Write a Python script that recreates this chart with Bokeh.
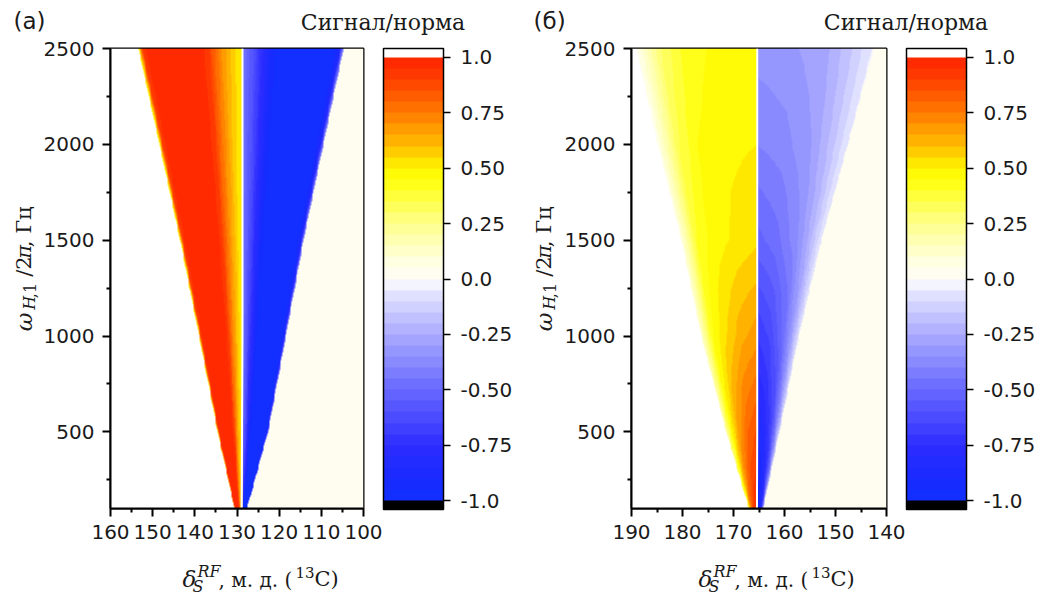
import numpy as np
from bokeh.plotting import figure
from bokeh.layouts import row, column
from bokeh.models import LinearColorMapper, ColorBar, FixedTicker, Range1d
from bokeh.core.properties import value
from bokeh.embed import file_html
from bokeh.resources import INLINE

# ---------------- data ----------------
omega_rows = [100, 500, 1000, 1500, 2000, 2500]          # ω_H,1/2π, Гц
y_ticks = [500, 1000, 1500, 2000, 2500]
y_minor = [250, 750, 1250, 1750, 2250]

# panel (a): RF offset, ppm (13C)
a_x_ticks = [160, 150, 140, 130, 120, 110, 100]
a_x_minor = [155, 145, 135, 125, 115, 105]
a_left_edge = [130.6, 134.6, 139.0, 143.5, 148.4, 153.4]
a_center = [128.9, 128.8, 128.7, 128.7, 128.7, 128.7]
a_right_edge = [127.6, 122.6, 118.4, 114.2, 109.5, 104.7]
a_frac = [0.0, 0.05, 0.12, 0.2, 0.28, 0.34, 0.5, 0.9, 0.96, 1.0]   # 0 = resonance, 1 = wedge edge
a_left_vals = [[0.50, 0.53, 0.60, 0.70, 0.82, 0.94, 0.99, 0.99, 0.90, 0.45]] * 6
a_right_vals = [[-0.45, -0.52, -0.62, -0.76, -0.90, -0.96, -0.99, -0.98, -0.85, -0.35]] * 6

# panel (б)
b_x_ticks = [190, 180, 170, 160, 150, 140]
b_x_minor = [185, 175, 165, 155, 145]
b_left_edge = [167.0, 171.4, 176.3, 180.2, 184.8, 189.0]
b_center = [165.4, 165.35, 165.35, 165.35, 165.35, 165.35]
b_right_edge = [164.2, 161.0, 157.2, 152.8, 147.6, 142.5]
b_frac = [0.0, 0.3, 0.6, 0.8, 1.0]
b_left_vals = [
    [0.96, 0.92, 0.82, 0.65, 0.35],
    [0.86, 0.80, 0.66, 0.50, 0.20],
    [0.68, 0.63, 0.53, 0.44, 0.12],
    [0.54, 0.51, 0.47, 0.40, 0.08],
    [0.50, 0.49, 0.45, 0.34, 0.06],
    [0.49, 0.47, 0.42, 0.30, 0.04],
]
b_right_vals = [
    [-0.96, -0.92, -0.82, -0.60, -0.20],
    [-0.86, -0.80, -0.66, -0.42, -0.10],
    [-0.70, -0.64, -0.50, -0.32, -0.06],
    [-0.52, -0.47, -0.37, -0.24, -0.05],
    [-0.40, -0.37, -0.30, -0.19, -0.05],
    [-0.33, -0.31, -0.26, -0.16, -0.04],
]
outside_value = 0.02        # level on the low-ppm side of the wedge

cb_ticks = [-1.0, -0.75, -0.5, -0.25, 0.0, 0.25, 0.5, 0.75, 1.0]
cb_tick_labels = ["-1.0", "-0.75", "-0.50", "-0.25", "0.0", "0.25", "0.50", "0.75", "1.0"]

# ---------------- palette (style) ----------------
anchor_v = [-1.0, -0.9, -0.75, -0.5, -0.25, -0.05, 0.0, 0.1, 0.25, 0.45, 0.5, 0.6, 0.75, 0.9, 1.0]
anchor_rgb = [(16, 48, 255), (24, 42, 255), (45, 45, 255), (105, 105, 255), (170, 170, 255),
              (232, 232, 255), (255, 255, 255), (255, 255, 215), (255, 255, 140), (255, 255, 10),
              (255, 246, 0), (255, 190, 0), (255, 122, 0), (255, 62, 0), (255, 35, 0)]
low, high = -1.04, 1.04
palette = []
for i in range(208):
    v = low + (i + 0.5) * 0.01
    if v < -1.0:
        palette.append("#000000")
    elif v > 1.0:
        palette.append("#ffffff")
    else:
        lvl = (np.floor(v / 0.05) + 0.5) * 0.05
        rgb = [int(round(np.interp(lvl, anchor_v, [c[k] for c in anchor_rgb]))) for k in range(3)]
        if 0 <= lvl < 0.05:
            rgb = [255, 252, 240]
        palette.append("#%02x%02x%02x" % tuple(rgb))
mapper = LinearColorMapper(palette=palette, low=low, high=high, nan_color="#ffffff")


def build_field(xmin, xmax, left_e, center, right_e, fr, lvals, rvals, nx=300, ny=480):
    xs = xmin + (np.arange(nx) + 0.5) * (xmax - xmin) / nx
    ys = omega_rows[0] + (np.arange(ny) + 0.5) * (omega_rows[-1] - omega_rows[0]) / ny
    L = np.array(lvals)
    R = np.array(rvals)
    img = np.full((ny, nx), np.nan)
    for j, y in enumerate(ys):
        le = np.interp(y, omega_rows, left_e)
        c = np.interp(y, omega_rows, center)
        re = np.interp(y, omega_rows, right_e)
        lp = [np.interp(y, omega_rows, L[:, k]) for k in range(len(fr))]
        rp = [np.interp(y, omega_rows, R[:, k]) for k in range(len(fr))]
        m = (xs >= c) & (xs <= le)
        img[j, m] = np.interp((xs[m] - c) / (le - c), fr, lp)
        m = (xs < c) & (xs >= re)
        img[j, m] = np.interp((c - xs[m]) / (c - re), fr, rp)
        img[j, xs < re] = outside_value
    return np.clip(img, -0.999, 0.999)


SANS = "DejaVu Sans"
SERIF = "DejaVu Serif"
INK = "#1a1a1a"
MID = 0.345   # text is drawn centred on its anchor: baseline sits this many font sizes below it


def txt(s, text, x, y, size, style="normal", font=SERIF, angle=0.0, align="left"):
    # x, y: baseline start, in pixels from the strip's left / bottom edge
    if angle == 0.0:
        y = y + MID * size
    else:
        x = x - MID * size
    s.text(x=[x], y=[y], text=[text], text_font=value(font), text_font_size=value(f"{size}px"),
           text_font_style=value(style), text_color=INK, angle=angle,
           text_align=value(align), text_baseline=value("alphabetic"))


def strip(w, h):
    s = figure(width=w, height=h, min_border=0, toolbar_location=None, output_backend="svg",
               x_axis_location=None, y_axis_location=None, outline_line_color=None,
               x_range=Range1d(0, w), y_range=Range1d(0, h), title=None)
    s.xgrid.visible = False
    s.ygrid.visible = False
    return s


LEFT_W = 40
TOP_H = 36
TOP_BORDER = 12
MAIN_H = TOP_BORDER + 460 + 42


def make_panel(tag, xr, xt, xm, left_e, center, right_e, fr, lvals, rvals,
               total_w, frame_left, frame_w, dx):
    p = figure(x_range=Range1d(*xr), y_range=Range1d(omega_rows[0], omega_rows[-1]),
               frame_width=frame_w, frame_height=460, min_border_left=frame_left - LEFT_W,
               min_border_right=total_w - frame_left - frame_w, min_border_top=TOP_BORDER,
               min_border_bottom=42, output_backend="svg", toolbar_location=None, title=None)
    xmin, xmax = min(xr), max(xr)
    img = build_field(xmin, xmax, left_e, center, right_e, fr, lvals, rvals)
    p.image(image=[img], x=xmin, y=omega_rows[0], dw=xmax - xmin,
            dh=omega_rows[-1] - omega_rows[0], color_mapper=mapper)
    p.line(x=center, y=omega_rows, line_color="white", line_width=2)

    p.xgrid.visible = False
    p.ygrid.visible = False
    p.outline_line_color = "black"
    p.outline_line_width = 2
    p.xaxis.ticker = FixedTicker(ticks=xt, minor_ticks=xm)
    p.yaxis.ticker = FixedTicker(ticks=y_ticks, minor_ticks=y_minor)
    for ax in (p.xaxis[0], p.yaxis[0]):
        ax.axis_line_width = 2
        ax.axis_line_color = "black"
        ax.major_tick_line_width = 2
        ax.minor_tick_line_width = 2
        ax.major_tick_out = 8
        ax.major_tick_in = 0
        ax.minor_tick_out = 4
        ax.minor_tick_in = 0
        ax.major_label_text_font = SANS
        ax.major_label_text_font_size = "20px"
        ax.major_label_text_color = INK
        ax.major_label_standoff = 8

    cb = ColorBar(color_mapper=mapper, ticker=FixedTicker(ticks=cb_ticks),
                  major_label_overrides=dict(zip(cb_ticks, cb_tick_labels)),
                  width=60, height=461, location=(frame_w + 20, -1), padding=0, margin=0,
                  bar_line_color="black", bar_line_width=1.5,
                  major_tick_line_color="black", major_tick_line_width=1.5,
                  major_tick_out=7, major_tick_in=0, minor_tick_line_color=None,
                  label_standoff=10, major_label_text_font=SANS,
                  major_label_text_font_size="20px", major_label_text_color=INK,
                  background_fill_alpha=0, border_line_color=None)
    p.add_layout(cb, "center")

    # top strip (page y 0..36): panel tag and colour-bar title
    top = strip(total_w, TOP_H)
    txt(top, tag, 13, 8, 23, font=SANS)
    txt(top, "Сигнал/норма", frame_left + frame_w + 20 - 0.5, 6, 22, align="center")

    # left strip (page y 36..550): ω_H,1/2π, Гц, rotated
    left = strip(LEFT_W, MAIN_H)
    a = np.pi / 2
    txt(left, "ω", 31, 198, 23, "italic", angle=a)
    txt(left, "H", 35, 222, 16, "italic", angle=a)
    txt(left, ",1", 35, 235, 16, angle=a)
    txt(left, "/2", 31, 259, 21, angle=a)
    txt(left, "π", 31, 279, 21, "italic", angle=a)
    txt(left, ", Гц", 31, 292, 21, angle=a)

    # bottom strip (page y 550..604): δ_S^RF, м. д. (13C)
    bot = strip(total_w, 604 - TOP_H - MAIN_H)
    txt(bot, "δ", 182 + dx, 18, 23, "italic")
    txt(bot, "RF", 197 + dx, 27, 16, "italic")
    txt(bot, "S", 192 + dx, 12, 16, "italic")
    txt(bot, ", м. д. (", 218 + dx, 18, 20)
    txt(bot, "13", 295 + dx, 27, 15)
    txt(bot, "C)", 314 + dx, 18, 21)

    return column(top, row(left, p), bot)


pa = make_panel("(a)", (160, 100), a_x_ticks, a_x_minor, a_left_edge, a_center, a_right_edge,
                a_frac, a_left_vals, a_right_vals, 520, 110, 253, 0)
pb = make_panel("(б)", (190, 140), b_x_ticks, b_x_minor, b_left_edge, b_center, b_right_edge,
                b_frac, b_left_vals, b_right_vals, 519, 111, 255, -4)

layout = row(pa, pb)
open("out.html", "w").write(file_html(layout, INLINE))
